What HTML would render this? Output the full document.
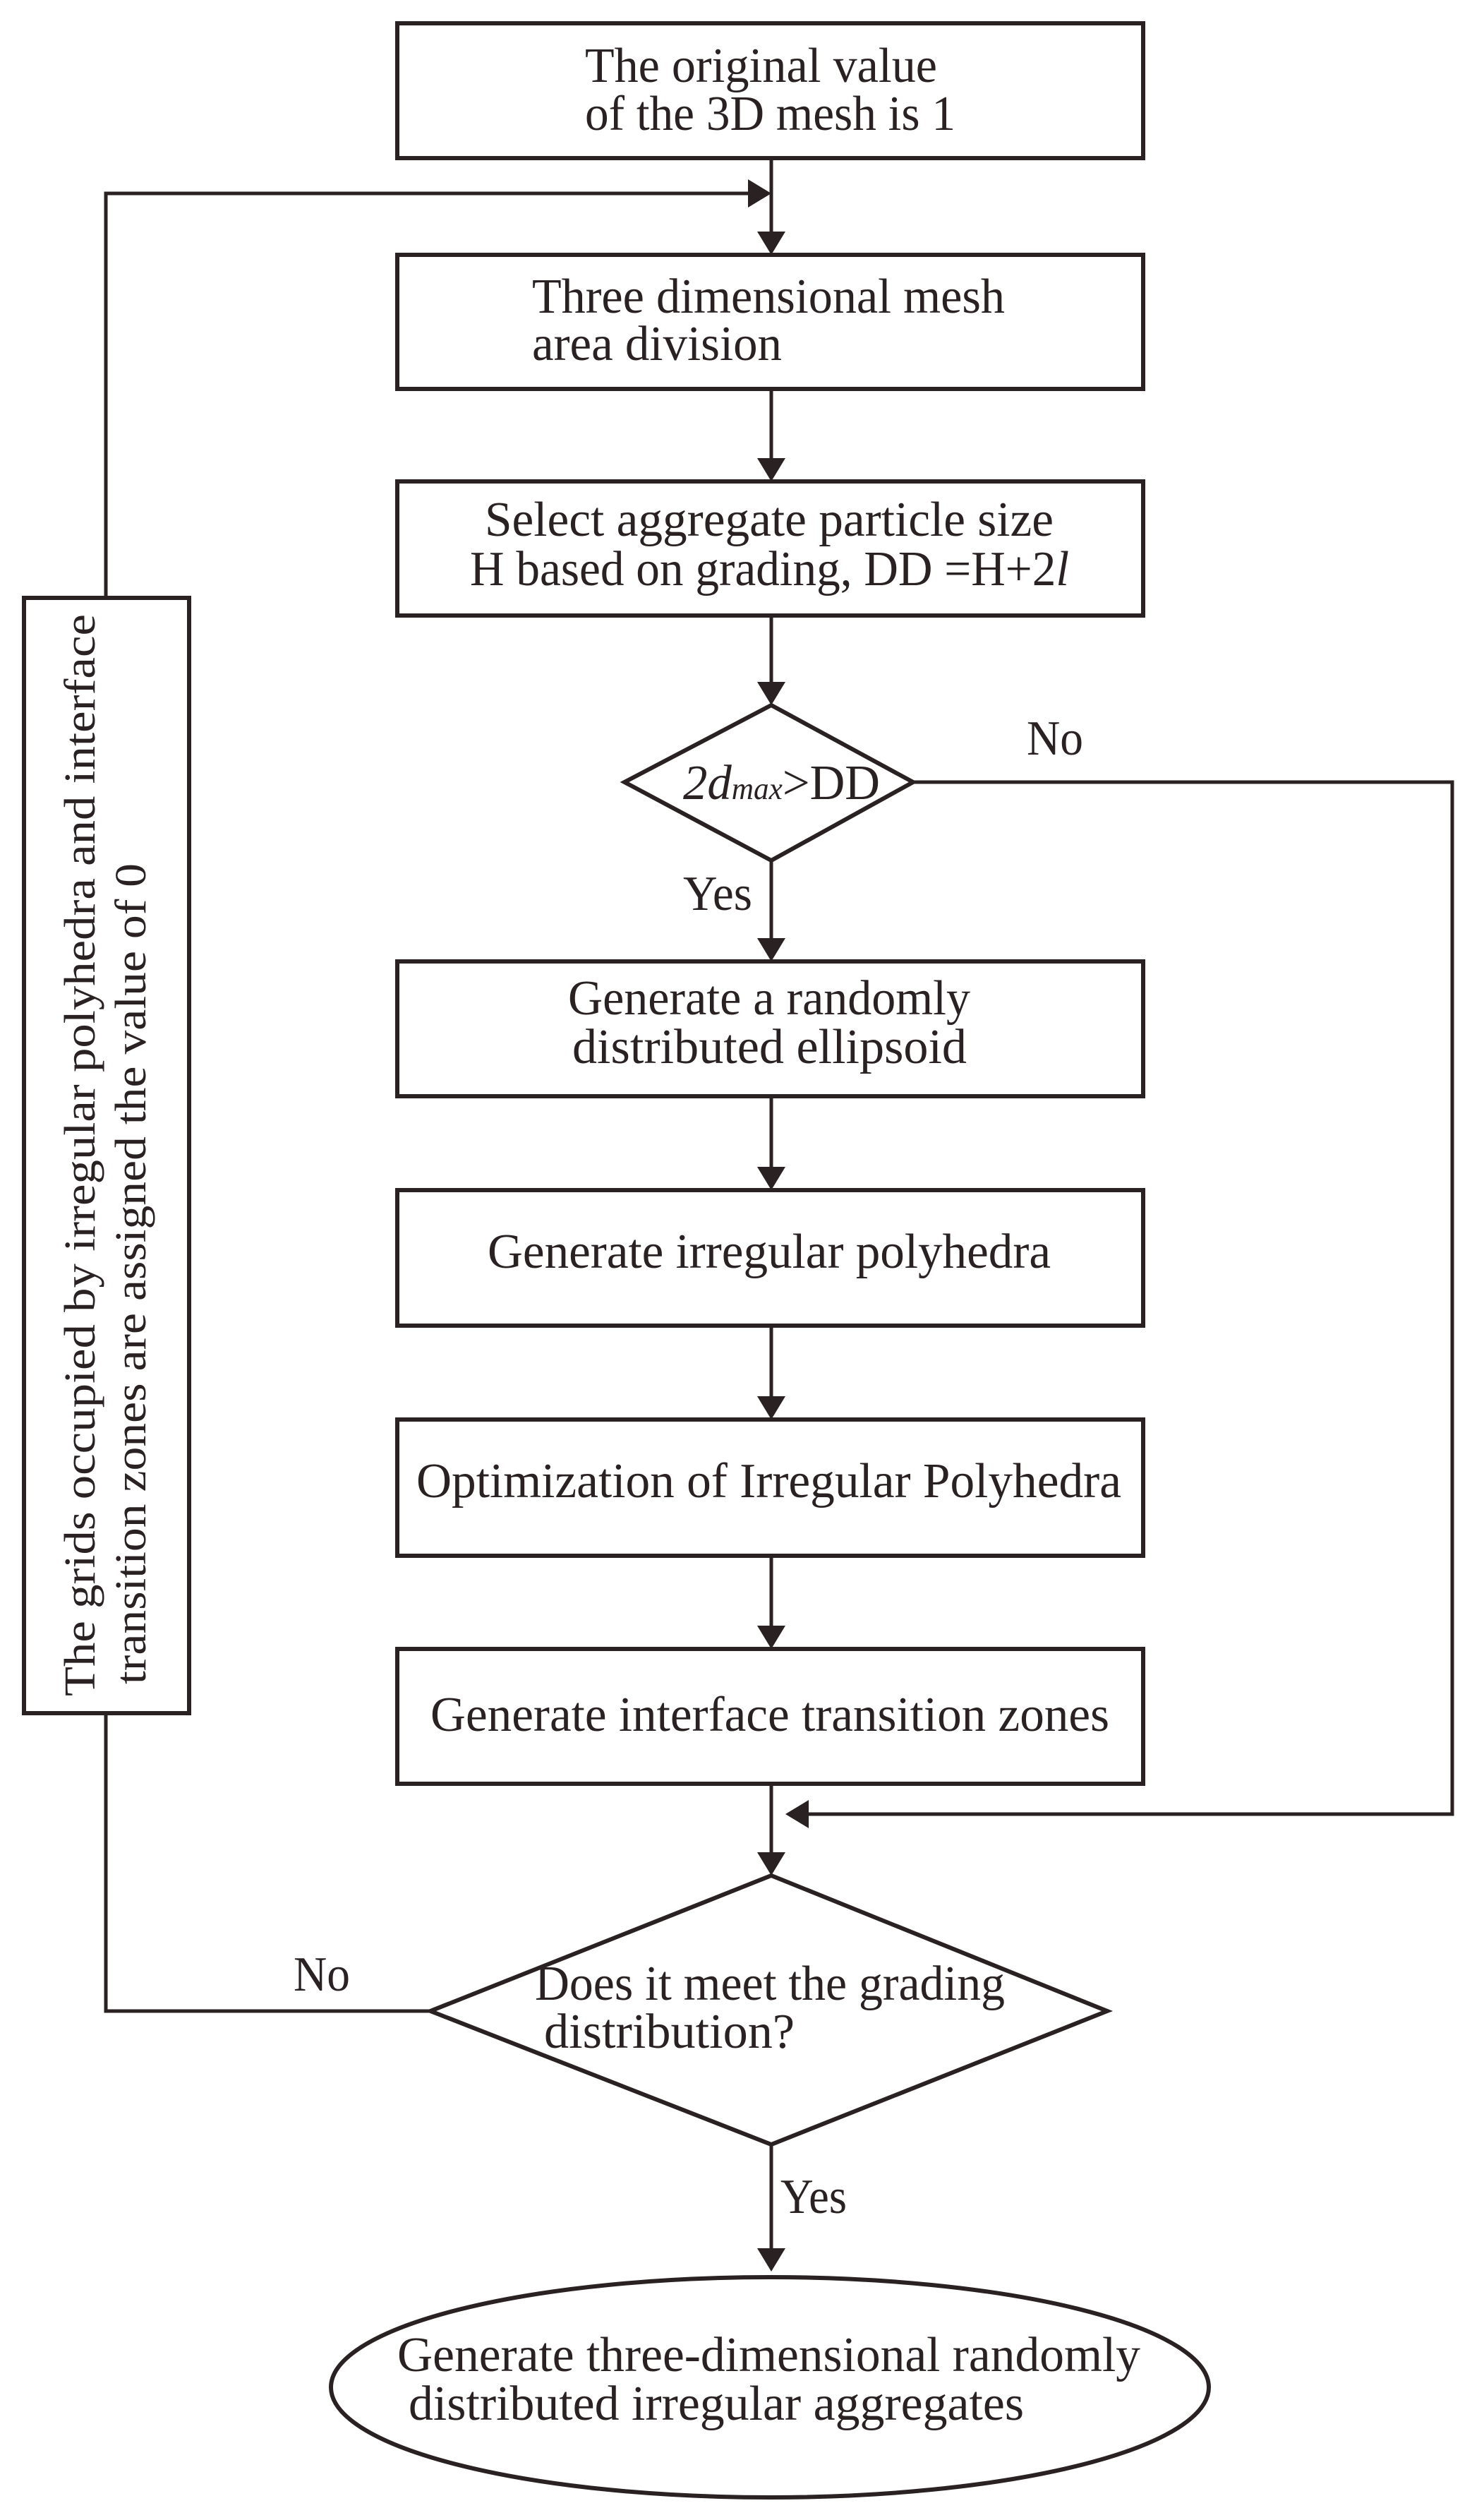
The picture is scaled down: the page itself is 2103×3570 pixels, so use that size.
<!DOCTYPE html>
<html><head><meta charset="utf-8"><style>html,body{margin:0;padding:0;background:#fff}svg{display:block}</style></head>
<body>
<svg width="2103" height="3570" viewBox="0 0 2103 3570" xmlns="http://www.w3.org/2000/svg">
<g fill="none" stroke="#2a2222" stroke-width="6">
<rect x="563" y="33" width="1057" height="191"/>
<rect x="563" y="361" width="1057" height="190"/>
<rect x="563" y="682" width="1057" height="190"/>
<rect x="563" y="1362" width="1057" height="191"/>
<rect x="563" y="1686" width="1057" height="192"/>
<rect x="563" y="2011" width="1057" height="193"/>
<rect x="563" y="2336" width="1057" height="191"/>
<rect x="34" y="847" width="234" height="1580"/>
<polygon points="1093,999 1294,1108 1093,1219 885,1108"/>
<polygon points="1093,2657 1569,2849 1093,3038 610,2849"/>
<ellipse cx="1091" cy="3382" rx="622" ry="156"/>
</g>
<g fill="none" stroke="#2a2222" stroke-width="5">
<line x1="1093" y1="224" x2="1093" y2="330"/>
<polyline points="150,847 150,274 1060,274"/>
<line x1="1093" y1="551" x2="1093" y2="650"/>
<line x1="1093" y1="872" x2="1093" y2="968"/>
<line x1="1093" y1="1219" x2="1093" y2="1330"/>
<polyline points="1294,1108 2058,1108 2058,2570 1135,2570"/>
<line x1="1093" y1="1553" x2="1093" y2="1655"/>
<line x1="1093" y1="1878" x2="1093" y2="1980"/>
<line x1="1093" y1="2204" x2="1093" y2="2305"/>
<line x1="1093" y1="2527" x2="1093" y2="2625"/>
<polyline points="150,2427 150,2849 610,2849"/>
<line x1="1093" y1="3038" x2="1093" y2="3185"/>
</g>
<g fill="#2a2222">
<polygon points="1093,361 1073,328 1113,328"/>
<polygon points="1093,682 1073,649 1113,649"/>
<polygon points="1093,999 1073,966 1113,966"/>
<polygon points="1093,1362 1073,1329 1113,1329"/>
<polygon points="1093,1686 1073,1653 1113,1653"/>
<polygon points="1093,2011 1073,1978 1113,1978"/>
<polygon points="1093,2336 1073,2303 1113,2303"/>
<polygon points="1093,2657 1073,2624 1113,2624"/>
<polygon points="1093,3218 1073,3185 1113,3185"/>
<polygon points="1093,274 1060,254 1060,294"/>
<polygon points="1113,2570 1146,2550 1146,2590"/>
</g>
<g font-family="Liberation Serif, serif" font-size="70" fill="#2a2222">
<text x="829" y="116" textLength="499" lengthAdjust="spacingAndGlyphs">The original value</text>
<text x="829" y="184" textLength="525" lengthAdjust="spacingAndGlyphs">of  the 3D mesh is 1</text>
<text x="754" y="443" textLength="670" lengthAdjust="spacingAndGlyphs">Three dimensional mesh</text>
<text x="754" y="510" textLength="354" lengthAdjust="spacingAndGlyphs">area division</text>
<text x="687" y="759" textLength="806" lengthAdjust="spacingAndGlyphs">Select aggregate particle size</text>
<text x="666" y="829" textLength="849" lengthAdjust="spacingAndGlyphs">H based on grading, DD =H+2<tspan font-style="italic">l</tspan></text>
<text x="968" y="1132" textLength="279" lengthAdjust="spacingAndGlyphs"><tspan font-style="italic">2d</tspan><tspan font-style="italic" font-size="44">max</tspan>&gt;DD</text>
<text x="1455" y="1069" textLength="80" lengthAdjust="spacingAndGlyphs">No</text>
<text x="968" y="1289" textLength="98" lengthAdjust="spacingAndGlyphs">Yes</text>
<text x="805" y="1437" textLength="570" lengthAdjust="spacingAndGlyphs">Generate a randomly</text>
<text x="811" y="1506" textLength="559" lengthAdjust="spacingAndGlyphs">distributed ellipsoid</text>
<text x="691" y="1796" textLength="798" lengthAdjust="spacingAndGlyphs">Generate irregular polyhedra</text>
<text x="590" y="2121" textLength="999" lengthAdjust="spacingAndGlyphs">Optimization of Irregular Polyhedra</text>
<text x="610" y="2452" textLength="962" lengthAdjust="spacingAndGlyphs">Generate interface transition zones</text>
<text x="758" y="2833" textLength="666" lengthAdjust="spacingAndGlyphs">Does it meet the grading</text>
<text x="771" y="2901" textLength="355" lengthAdjust="spacingAndGlyphs">distribution?</text>
<text x="416" y="2820" textLength="80" lengthAdjust="spacingAndGlyphs">No</text>
<text x="1106" y="3135" textLength="94" lengthAdjust="spacingAndGlyphs">Yes</text>
<text x="563" y="3359" textLength="1053" lengthAdjust="spacingAndGlyphs">Generate three-dimensional randomly</text>
<text x="579" y="3428" textLength="872" lengthAdjust="spacingAndGlyphs">distributed irregular aggregates</text>
<text transform="translate(134,2403) rotate(-90)" font-size="62" textLength="1533" lengthAdjust="spacingAndGlyphs">The grids occupied by irregular polyhedra and interface</text>
<text transform="translate(206,2386) rotate(-90)" font-size="62" textLength="1163" lengthAdjust="spacingAndGlyphs">transition zones are assigned the value of 0</text>
</g>
</svg>
</body></html>
